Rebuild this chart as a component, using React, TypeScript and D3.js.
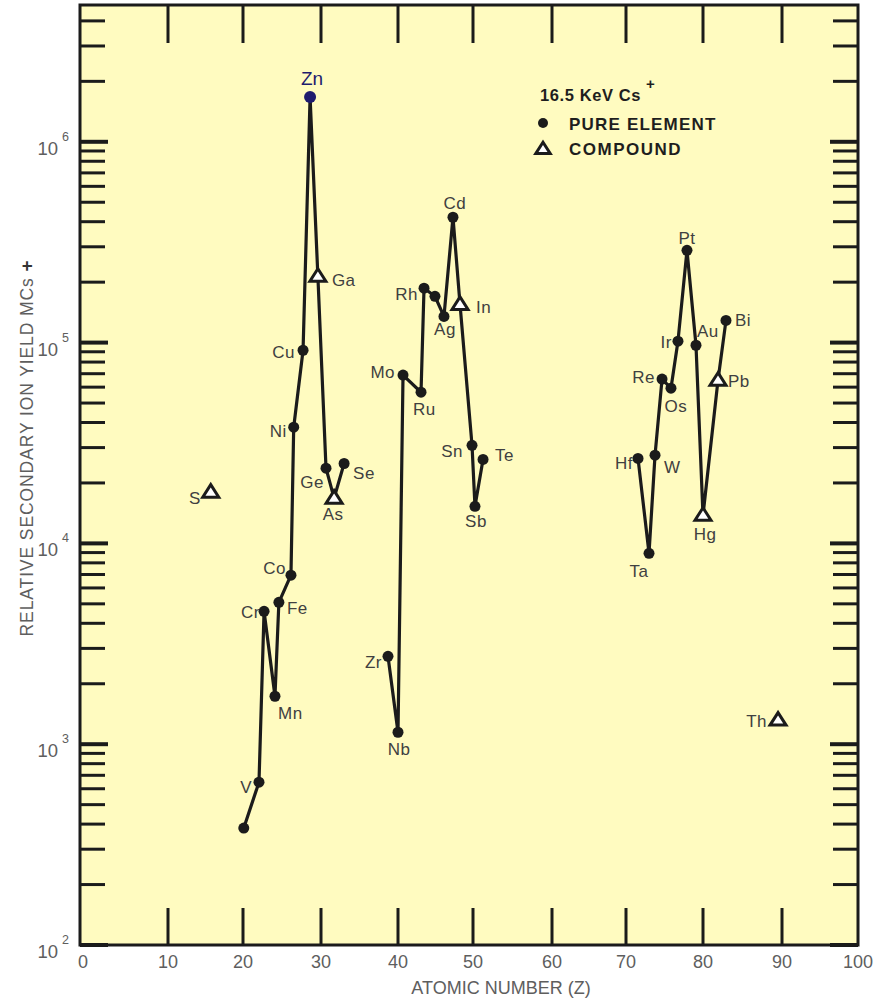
import React from "react";
import * as d3 from "d3";

const W = 887;
const H = 1000;

// ---- axis ticks ----
const xTickValues = [0, 10, 20, 30, 40, 50, 60, 70, 80, 90, 100];
const xTickPixels = [80, 168, 243, 321, 398, 473, 552, 626, 703, 782, 858];
const yDecades = [2, 3, 4, 5, 6];
const yMax = 4.8e6;

// ---- data: first transition group ----
const group1Elements = ["Ca", "V", "Cr", "Mn", "Fe", "Co", "Ni", "Cu", "Zn", "Ga", "Ge", "As", "Se"];
const group1Z = [20.1, 22.05, 22.7, 24.1, 24.6, 26.15, 26.5, 27.7, 28.6, 29.6, 30.65, 31.7, 33.0];
const group1Yield = [382, 647, 4590, 1733, 5090, 6950, 37900, 91600, 1670000, 214000, 23700, 16800, 25000];

// ---- data: second transition group ----
const group2Elements = ["Zr", "Nb", "Mo", "Ru", "Rh", "Pd", "Ag", "Cd", "In", "Sn", "Sb", "Te"];
const group2Z = [38.7, 40.0, 40.67, 43.07, 43.47, 44.93, 46.13, 47.33, 48.27, 49.87, 50.25, 51.27];
const group2Yield = [2740, 1147, 68900, 56600, 186600, 170000, 135000, 421000, 155000, 30800, 15300, 26200];

// ---- data: third transition group ----
const group3Elements = ["Hf", "Ta", "W", "Re", "Os", "Ir", "Pt", "Au", "Hg", "Pb", "Bi"];
const group3Z = [71.56, 72.99, 73.77, 74.68, 75.84, 76.75, 77.92, 79.09, 80.0, 81.9, 82.91];
const group3Yield = [26500, 8930, 27500, 65800, 59300, 101600, 288000, 97000, 13800, 65000, 129000];

// ---- isolated compounds ----
const isolatedElements = ["S", "Th"];
const isolatedZ = [15.7, 89.5];
const isolatedYield = [18000, 1318];

const compoundElements = ["Ga", "As", "In", "Hg", "Pb", "S", "Th"];
const highlightElement = "Zn";

// label placement: [anchor, dx, dy]
const labelPlacement: Record<string, [string, number, number]> = {
  V: ["end", -7, 11], Cr: ["end", -4, 7], Mn: ["start", 3, 23], Fe: ["start", 8, 12],
  Co: ["end", -5, -1], Ni: ["end", -7, 10], Cu: ["end", -8, 8], Zn: ["middle", 2, -12],
  Ga: ["start", 14, 10], Ge: ["end", -2, 20], As: ["middle", -1, 22], Se: ["start", 9, 16],
  S: ["end", -10, 12],
  Zr: ["end", -6, 12], Nb: ["middle", 1, 23], Mo: ["end", -8, 3], Ru: ["start", -8, 23],
  Rh: ["end", -6, 12], Ag: ["middle", 1, 19], Cd: ["middle", 2, -8], In: ["start", 16, 9],
  Sn: ["end", -9, 12], Sb: ["middle", 1, 21], Te: ["start", 12, 2],
  Hf: ["end", -5, 11], Ta: ["middle", -10, 24], W: ["start", 9, 18], Re: ["end", -7, 4],
  Os: ["middle", 5, 24], Ir: ["end", -6, 7], Pt: ["middle", 0, -6], Au: ["start", 1, -8],
  Hg: ["middle", 2, 25], Pb: ["start", 10, 7], Bi: ["start", 9, 6], Th: ["end", -11, 7],
};

const left = 80, right = 858, top = 5, bottom = 945;
const bg = "#FFFBC0";
const ink = "#1b1b1b";
const labelColor = "#404040";
const axisText = "#5e5e5e";
const font = "'Liberation Sans', Arial, sans-serif";

const x = d3.scaleLinear().domain(xTickValues).range(xTickPixels);
const y = d3.scaleLog().domain([100, yMax]).range([bottom, top]);

type Pt = { el: string; z: number; v: number };
const mk = (els: string[], zs: number[], vs: number[]): Pt[] =>
  els.map((el, i) => ({ el, z: zs[i], v: vs[i] }));

const groups = [
  mk(group1Elements, group1Z, group1Yield),
  mk(group2Elements, group2Z, group2Yield),
  mk(group3Elements, group3Z, group3Yield),
];
const isolated = mk(isolatedElements, isolatedZ, isolatedYield);
const allPoints = [...groups.flat(), ...isolated];

const line = d3
  .line<Pt>()
  .x((d) => x(d.z))
  .y((d) => y(d.v));

const tri = (cx: number, cy: number, s = 1) =>
  `M${cx},${cy - 7.5 * s} L${cx + 8 * s},${cy + 5 * s} L${cx - 8 * s},${cy + 5 * s} Z`;

export default function App() {
  const minorTicks: { v: number; major: boolean }[] = [];
  yDecades.forEach((d) => {
    for (let m = 1; m <= 9; m++) {
      const v = m * Math.pow(10, d);
      if (v <= yMax) minorTicks.push({ v, major: m === 1 });
    }
  });
  const innerX = xTickValues.filter((t) => t > 0 && t < 100);

  return (
    <svg
      width={W}
      height={H}
      viewBox={`0 0 ${W} ${H}`}
      style={{ position: "absolute", left: 0, top: 0, background: "#fff" }}
    >
      <rect x={left} y={top} width={right - left} height={bottom - top} fill={bg} />

      {/* y ticks */}
      {minorTicks.map((t, i) => {
        const yy = y(t.v);
        const len = t.major ? 28 : 25;
        return (
          <g key={"yt" + i} stroke={ink} strokeWidth={t.major ? 4 : 3}>
            <line x1={left} x2={left + len} y1={yy} y2={yy} />
            <line x1={right} x2={right - len} y1={yy} y2={yy} />
          </g>
        );
      })}
      {/* x ticks */}
      {innerX.map((t) => (
        <g key={"xt" + t} stroke={ink} strokeWidth={3}>
          <line x1={x(t)} x2={x(t)} y1={bottom} y2={bottom - 37} />
          <line x1={x(t)} x2={x(t)} y1={top} y2={top + 38} />
        </g>
      ))}

      <rect
        x={left}
        y={top}
        width={right - left}
        height={bottom - top}
        fill="none"
        stroke={ink}
        strokeWidth={3}
      />

      {/* y tick labels */}
      {yDecades.map((d) => (
        <g key={"yl" + d} fill={axisText} fontFamily={font}>
          <text x={58} y={y(Math.pow(10, d)) + 13} fontSize={18.5} textAnchor="end">
            10
          </text>
          <text x={62} y={y(Math.pow(10, d)) - 1} fontSize={12.5}>
            {d}
          </text>
        </g>
      ))}
      {/* x tick labels */}
      {xTickValues.map((t) => (
        <text
          key={"xl" + t}
          x={x(t) + (t === 0 ? 3 : 0)}
          y={968}
          fontSize={18}
          textAnchor="middle"
          fill={axisText}
          fontFamily={font}
        >
          {t}
        </text>
      ))}

      {/* axis titles */}
      <text
        x={501}
        y={994}
        fontSize={18}
        textAnchor="middle"
        fill={axisText}
        fontFamily={font}
      >
        ATOMIC NUMBER (Z)
      </text>
      <text
        transform="translate(33,448) rotate(-90)"
        fontSize={17.5}
        textAnchor="middle"
        fill={axisText}
        fontFamily={font}
        letterSpacing={0.9}
      >
        RELATIVE SECONDARY ION YIELD MCs{" "}
        <tspan fontWeight="bold" fill="#333" fontSize={19}>
          +
        </tspan>
      </text>

      {/* lines */}
      {groups.map((g, i) => (
        <path
          key={"ln" + i}
          d={line(g) || ""}
          fill="none"
          stroke={ink}
          strokeWidth={3.2}
          strokeLinejoin="round"
        />
      ))}

      {/* markers */}
      {allPoints.map((p) => {
        const cx = x(p.z);
        const cy = y(p.v);
        if (compoundElements.includes(p.el)) {
          return (
            <path
              key={"m" + p.el}
              d={tri(cx, cy)}
              fill="#fff"
              stroke={ink}
              strokeWidth={3}
              strokeLinejoin="miter"
            />
          );
        }
        return (
          <circle
            key={"m" + p.el}
            cx={cx}
            cy={cy}
            r={p.el === highlightElement ? 6 : 5.5}
            fill={p.el === highlightElement ? "#1e1b6e" : ink}
          />
        );
      })}

      {/* labels */}
      {allPoints.map((p) => {
        const pl = labelPlacement[p.el];
        if (!pl) return null;
        const isHi = p.el === highlightElement;
        return (
          <text
            key={"lb" + p.el}
            x={x(p.z) + pl[1]}
            y={y(p.v) + pl[2]}
            textAnchor={pl[0] as any}
            fontSize={isHi ? 19 : 17}
            fill={isHi ? "#1e1b6e" : labelColor}
            fontFamily={font}
            letterSpacing={isHi ? 0 : 0.5}
          >
            {p.el}
          </text>
        );
      })}

      {/* legend */}
      <g fontFamily={font} fontWeight="bold" fill="#1e1e1e">
        <text x={540} y={101} fontSize={16.5} letterSpacing={0.6}>
          16.5 KeV Cs
          <tspan dx={5} dy={-12} fontSize={15}>
            +
          </tspan>
        </text>
        <circle cx={543} cy={123} r={5} fill={ink} />
        <text x={569} y={130} fontSize={17} letterSpacing={1.2}>
          PURE ELEMENT
        </text>
        <path d={tri(543, 149, 0.9)} fill="#fff" stroke={ink} strokeWidth={3} />
        <text x={569} y={155} fontSize={17} letterSpacing={1.5}>
          COMPOUND
        </text>
      </g>
    </svg>
  );
}
